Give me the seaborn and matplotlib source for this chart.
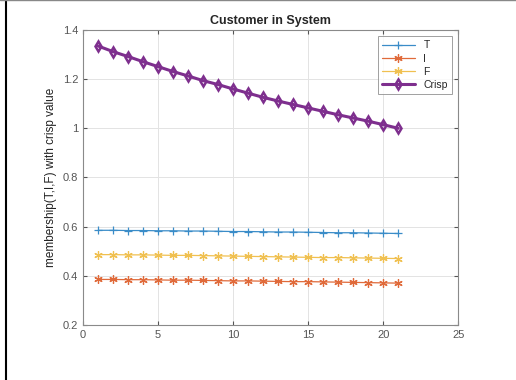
import numpy as np
import pandas as pd
import matplotlib
matplotlib.use("Agg")
import matplotlib.pyplot as plt
import seaborn as sns
from matplotlib.lines import Line2D

x_vals = list(range(1, 22))
T_vals = [0.585, 0.585, 0.584, 0.584, 0.583, 0.583, 0.582, 0.582, 0.581, 0.580, 0.580,
          0.579, 0.578, 0.578, 0.577, 0.576, 0.575, 0.575, 0.574, 0.573, 0.572]
I_vals = [0.385, 0.385, 0.384, 0.384, 0.383, 0.382, 0.382, 0.381, 0.380, 0.379, 0.379,
          0.378, 0.377, 0.376, 0.376, 0.375, 0.374, 0.373, 0.372, 0.371, 0.370]
F_vals = [0.486, 0.486, 0.485, 0.485, 0.484, 0.483, 0.483, 0.482, 0.481, 0.480, 0.479,
          0.478, 0.477, 0.476, 0.475, 0.474, 0.474, 0.473, 0.472, 0.471, 0.470]
Crisp_vals = [1.335, 1.312, 1.292, 1.271, 1.251, 1.231, 1.213, 1.194, 1.178, 1.160, 1.143,
              1.126, 1.111, 1.097, 1.083, 1.069, 1.055, 1.042, 1.029, 1.015, 1.000]
series_names = ["T", "I", "F", "Crisp"]
colors = ["#3a8cc8", "#e06a3a", "#f0c050", "#7E2F8E"]
markers = ["+", (6, 2, 0), (6, 2, 0), "d"]

df = pd.DataFrame({
    "x": x_vals * 4,
    "value": T_vals + I_vals + F_vals + Crisp_vals,
    "series": sum([[n] * len(x_vals) for n in series_names], []),
})

sns.set_style("white")
plt.rcParams["font.family"] = ["Liberation Sans", "DejaVu Sans"]

fig = plt.figure(figsize=(5.16, 3.8), dpi=100)
ax = fig.add_axes([0.161, 0.145, 0.727, 0.776])

for name, c, m in zip(series_names, colors, markers):
    sub = df[df["series"] == name]
    if name == "Crisp":
        sns.lineplot(data=sub, x="x", y="value", ax=ax, color=c, marker=m,
                     linewidth=2.2, markersize=5.5, markerfacecolor="none",
                     markeredgecolor=c, markeredgewidth=1.8, label=name)
    else:
        sns.lineplot(data=sub, x="x", y="value", ax=ax, color=c, marker=m,
                     linewidth=0.9, markersize=6, markeredgecolor=c,
                     markeredgewidth=0.9, label=name)

ax.set_xlim(0, 25)
ax.set_ylim(0.2, 1.4)
ax.set_xticks([0, 5, 10, 15, 20, 25])
ax.set_yticks([0.2, 0.4, 0.6, 0.8, 1.0, 1.2, 1.4])
ax.set_yticklabels(["0.2", "0.4", "0.6", "0.8", "1", "1.2", "1.4"])
ax.grid(True, color="#e3e3e3", linewidth=0.7)
ax.tick_params(axis="both", labelsize=8, colors="#555555", length=3, direction="in",
               left=True, bottom=True, top=True, right=True)
for s in ax.spines.values():
    s.set_color("#8a8a8a")
    s.set_linewidth(0.8)
ax.set_xlabel("")
ax.set_ylabel("membership(T,I,F) with crisp value", fontsize=8.5, color="#222222")
ax.set_title("Customer in System", fontsize=9, fontweight="bold", pad=4)

leg = ax.legend(loc="upper right", fontsize=7.5, frameon=True, fancybox=False,
                edgecolor="#888888", borderpad=0.4, handlelength=3.2, labelspacing=0.3,
                borderaxespad=0.6)
leg.get_frame().set_linewidth(0.7)

fig.add_artist(Line2D([0.012, 0.012], [0, 1], color="black", linewidth=1.5, transform=fig.transFigure))
fig.add_artist(Line2D([0, 1], [0.999, 0.999], color="#888888", linewidth=1.0, transform=fig.transFigure))

fig.savefig("out.png", dpi=100)
